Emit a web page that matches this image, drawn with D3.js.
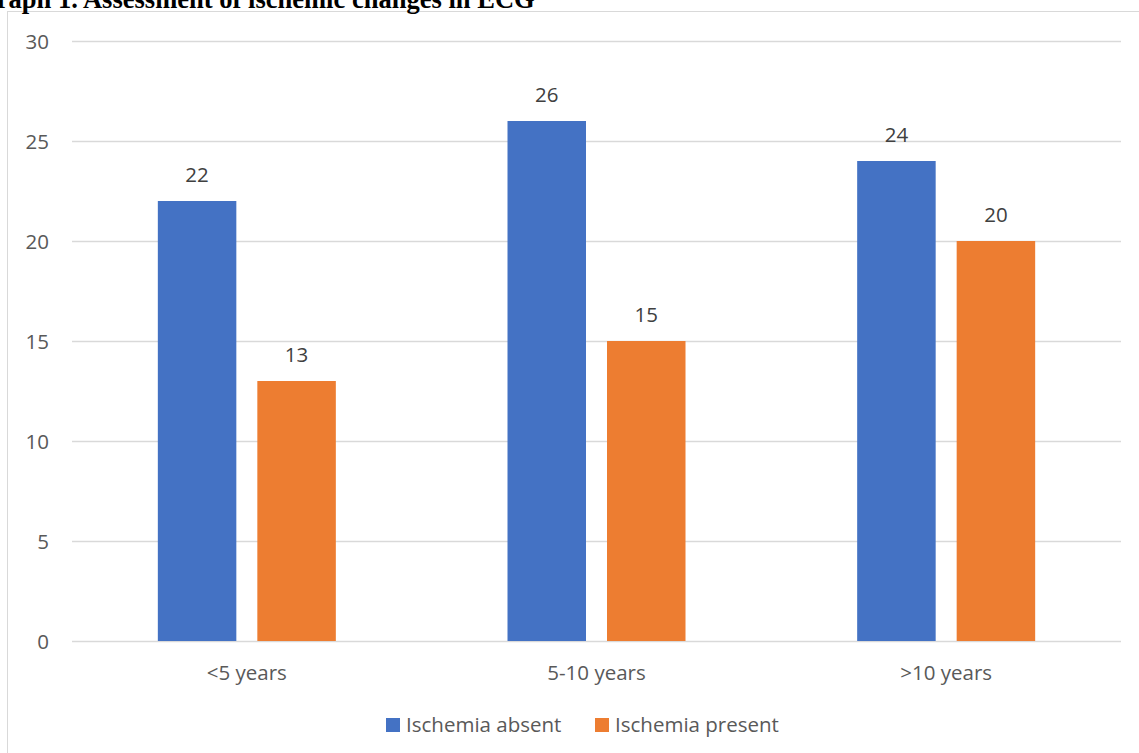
<!DOCTYPE html>
<html><head><meta charset="utf-8">
<script src="https://cdn.jsdelivr.net/npm/d3@7"></script>
<style>body{margin:0;background:#fff;}svg{display:block;}</style>
</head><body>
<svg id="c" width="1139" height="753"></svg>
<script>
const categories = ["<5 years", "5-10 years", ">10 years"];
const seriesNames = ["Ischemia absent", "Ischemia present"];
const absent = [22, 26, 24];
const present = [13, 15, 20];
const yTicks = [0, 5, 10, 15, 20, 25, 30];
const colors = ["#4472C4", "#ED7D31"];
const titlePrefix = "Graph 1. ";
const titleRest = "Assessment of ischemic changes in ECG";

(function () {
const svg = d3.select("#c");
const font = "'Open Sans', sans-serif";
const fs = 20.5;
const pLeft = 72, pRight = 1121, pTop = 41, pBottom = 641;

svg.append("rect").attr("x", 7.5).attr("y", 11.5).attr("width", 1200).attr("height", 800)
  .attr("fill", "#fff").attr("stroke", "#d9d9d9").attr("stroke-width", 1);

// title, partly cut off at the top-left as in the reference
const tSize = 26;
const tt = svg.append("text").attr("y", 8)
  .attr("font-family", "'Liberation Serif', 'Times New Roman', serif")
  .attr("font-weight", "bold").attr("font-size", tSize).attr("fill", "#000")
  .attr("xml:space", "preserve");
tt.append("tspan").text(titlePrefix);
tt.append("tspan").text(titleRest);
const prefW = tt.node().getSubStringLength(0, titlePrefix.length);
const restW = tt.node().getSubStringLength(titlePrefix.length, titleRest.length);
const scaleF = 452 / restW;
tt.attr("font-size", tSize * scaleF).attr("x", 83 - prefW * scaleF);

const x0 = d3.scaleBand().domain(categories).range([pLeft, pRight]).paddingInner(0).paddingOuter(0);
const y = d3.scaleLinear().domain([0, 30]).range([pBottom, pTop]);
const barW = 78.5, gap = 21;

const grid = svg.append("g");
grid.selectAll("line").data(yTicks).join("line")
  .attr("x1", pLeft).attr("x2", pRight)
  .attr("y1", d => Math.round(y(d)) + 0.5).attr("y2", d => Math.round(y(d)) + 0.5)
  .attr("stroke", "#d9d9d9").attr("stroke-width", 1.3);

const yAxis = d3.axisLeft(y).tickValues(yTicks).tickSize(0).tickPadding(0);
const ya = svg.append("g").attr("transform", `translate(49,0)`).call(yAxis);
ya.select(".domain").remove();
ya.selectAll("text").attr("font-family", font).attr("font-size", fs).attr("fill", "#595959").attr("dy", "0.35em");

const xAxis = d3.axisBottom(x0).tickSize(0).tickPadding(0);
const xa = svg.append("g").attr("transform", `translate(0,${pBottom + 32})`).call(xAxis);
xa.select(".domain").remove();
xa.selectAll("text").attr("font-family", font).attr("font-size", fs).attr("fill", "#595959").attr("dy", "0.35em");

const series = [absent, present];
series.forEach((vals, si) => {
  const g = svg.append("g");
  const bx = (c) => x0(c) + x0.bandwidth() / 2 + (si === 0 ? -gap / 2 - barW : gap / 2);
  g.selectAll("rect").data(categories).join("rect")
    .attr("x", c => bx(c)).attr("width", barW)
    .attr("y", (c, i) => y(vals[i])).attr("height", (c, i) => pBottom - y(vals[i]))
    .attr("fill", colors[si]);
  g.selectAll("text").data(categories).join("text")
    .attr("x", c => bx(c) + barW / 2).attr("y", (c, i) => y(vals[i]) - 26)
    .attr("text-anchor", "middle").attr("dy", "0.35em")
    .attr("font-family", font).attr("font-size", fs).attr("fill", "#404040")
    .text((c, i) => vals[i]);
});

const legend = svg.append("g");
const legX = [386, 595];
seriesNames.forEach((n, i) => {
  legend.append("rect").attr("x", legX[i]).attr("y", 718).attr("width", 14).attr("height", 14).attr("fill", colors[i]);
  legend.append("text").attr("x", legX[i] + 20).attr("y", 725).attr("dy", "0.35em")
    .attr("font-family", font).attr("font-size", fs).attr("fill", "#595959").text(n);
});
})();
</script>
</body></html>
